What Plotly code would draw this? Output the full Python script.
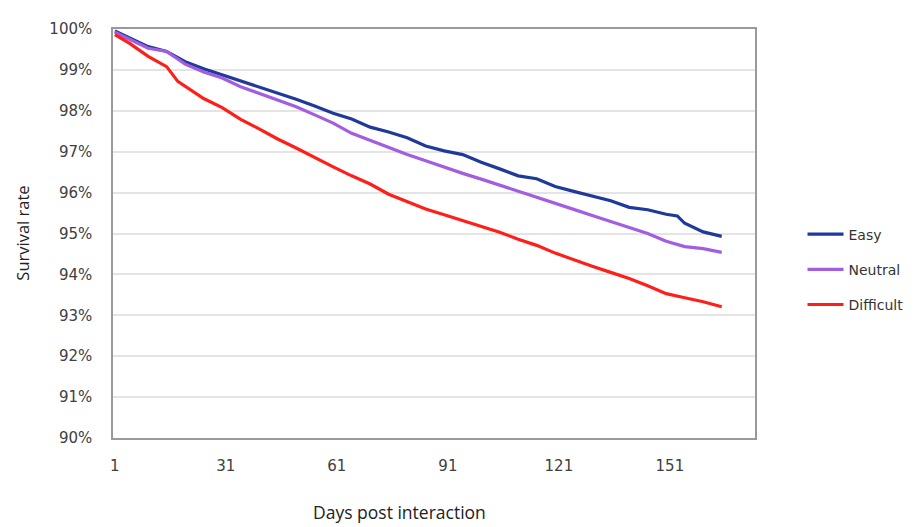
import plotly.graph_objects as go

days_easy = [1, 5, 10, 15, 20, 25, 30, 35, 40, 45, 50, 55, 60, 65, 70, 75, 80, 85, 90, 95,
             100, 105, 110, 115, 120, 125, 130, 135, 140, 145, 150, 153, 155, 160, 165]
easy = [99.95, 99.78, 99.57, 99.45, 99.20, 99.03, 98.88, 98.75, 98.60, 98.44, 98.28, 98.12,
        97.94, 97.80, 97.60, 97.48, 97.34, 97.14, 97.02, 96.93, 96.74, 96.58, 96.41, 96.34,
        96.15, 96.03, 95.92, 95.80, 95.64, 95.58, 95.47, 95.43, 95.25, 95.04, 94.93]

days_neutral = [1, 5, 10, 15, 20, 25, 30, 35, 40, 45, 50, 55, 60, 65, 70, 75, 80, 85, 90, 95,
                100, 105, 110, 115, 120, 125, 130, 135, 140, 145, 150, 155, 160, 165]
neutral = [99.92, 99.74, 99.53, 99.45, 99.14, 98.95, 98.80, 98.59, 98.43, 98.28, 98.10, 97.90,
           97.70, 97.45, 97.27, 97.09, 96.93, 96.78, 96.62, 96.47, 96.33, 96.18, 96.03, 95.87,
           95.74, 95.59, 95.44, 95.29, 95.14, 95.00, 94.81, 94.68, 94.63, 94.54]

days_difficult = [1, 5, 10, 15, 18, 20, 25, 30, 35, 40, 45, 50, 55, 60, 65, 70, 75, 80, 85, 90,
                  95, 100, 105, 110, 115, 120, 125, 130, 135, 140, 145, 150, 155, 160, 165]
difficult = [99.86, 99.65, 99.33, 99.08, 98.72, 98.60, 98.30, 98.08, 97.79, 97.56, 97.31, 97.09,
             96.85, 96.63, 96.41, 96.21, 95.96, 95.77, 95.60, 95.46, 95.32, 95.17, 95.03, 94.86,
             94.71, 94.52, 94.35, 94.20, 94.05, 93.90, 93.72, 93.53, 93.43, 93.33, 93.21]

x_ticks = [1, 31, 61, 91, 121, 151]
y_ticks = [90, 91, 92, 93, 94, 95, 96, 97, 98, 99, 100]
y_tick_labels = [f"{v}%" for v in y_ticks]

series = [
    ("Easy", days_easy, easy, "#1f3a9a"),
    ("Neutral", days_neutral, neutral, "#a35ee0"),
    ("Difficult", days_difficult, difficult, "#ff1f1a"),
]

fig = go.Figure()
for name, xs, ys, col in series:
    fig.add_trace(go.Scatter(x=xs, y=ys, mode="lines", name=name, legendgroup=name,
                             line=dict(color=col, width=3.2)))

tick_font = dict(family="DejaVu Sans", size=15, color="#404040")
PW, PH = 643, 415  # plot area size in px
fig.update_layout(
    width=912, height=519,
    margin=dict(l=105, r=164, t=15, b=89),
    paper_bgcolor="white", plot_bgcolor="white",
    showlegend=True,
    legend=dict(x=1.074, xanchor="left", y=0.412, yanchor="middle", itemwidth=36,
                font=dict(family="DejaVu Sans", size=14, color="#333333"),
                tracegroupgap=14, bgcolor="rgba(0,0,0,0)"),
    xaxis=dict(range=[0.5, 174], tickvals=x_ticks, showgrid=False, zeroline=False,
               showline=True, mirror=True, linecolor="#9a9a9a", linewidth=1.5,
               ticks="", ticklabelstandoff=13, tickfont=tick_font),
    yaxis=dict(range=[90, 100], tickvals=y_ticks, ticktext=y_tick_labels, showgrid=True,
               gridcolor="#e4e4e4", gridwidth=1.5, zeroline=False,
               showline=True, mirror=True, linecolor="#9a9a9a", linewidth=1.5,
               ticks="", ticklabelstandoff=16, tickfont=tick_font),
    annotations=[
        dict(text="Survival rate", xref="paper", yref="paper", x=(22 - 113) / PW, y=0.5,
             xanchor="center", yanchor="middle", textangle=-90, showarrow=False,
             font=dict(family="Open Sans", size=16.5, color="#222222")),
        dict(text="Days post interaction", xref="paper", yref="paper", x=(400 - 113) / PW,
             y=-(513 - 438) / PH, xanchor="center", yanchor="middle", showarrow=False,
             font=dict(family="Open Sans", size=17.5, color="#222222")),
    ],
)

fig.write_html("out.html")
